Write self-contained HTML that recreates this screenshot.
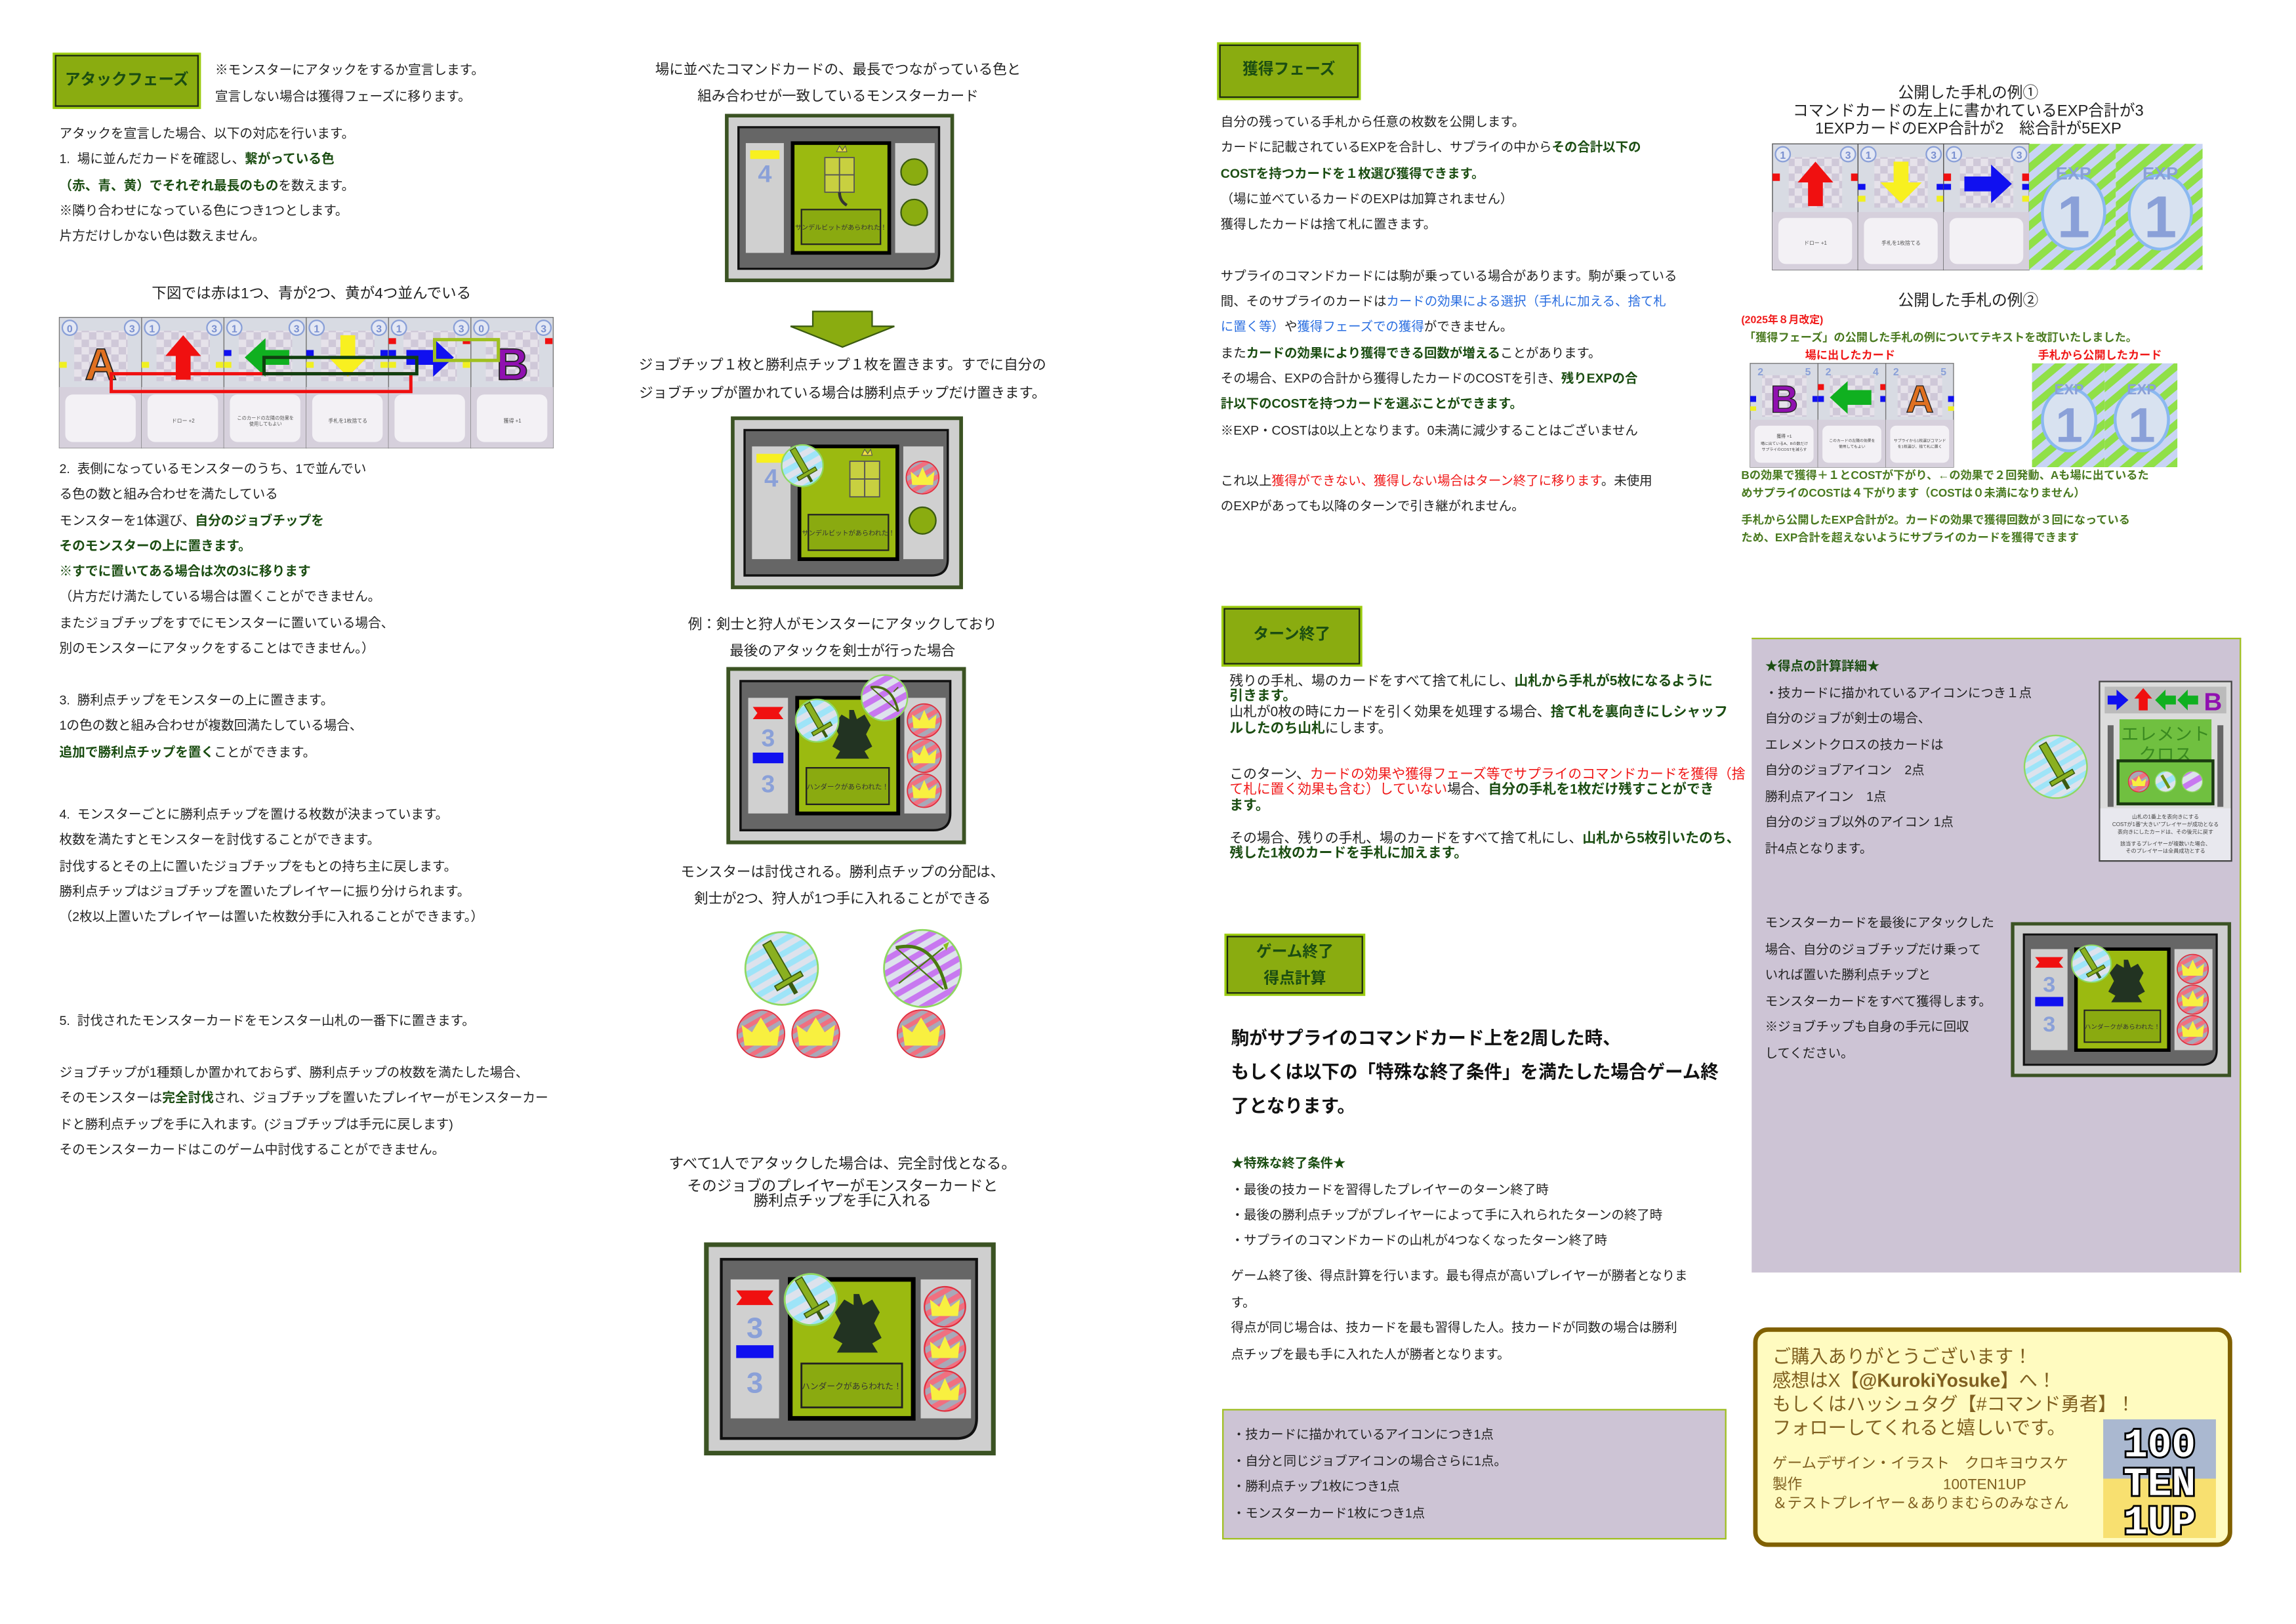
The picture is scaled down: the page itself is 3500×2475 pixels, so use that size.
<!DOCTYPE html>
<html><head><meta charset="utf-8">
<style>
html,body{margin:0;padding:0;background:#fff;}
body{width:3500px;height:2475px;overflow:hidden;position:relative;}
#s{position:absolute;left:0;top:0;width:1548px;height:1095px;transform:scale(2.2610,2.2603);transform-origin:0 0;font-family:"Liberation Sans","Noto Sans CJK JP",sans-serif;color:#222;}
.a{position:absolute;white-space:nowrap;}
.t{font-size:8.7px;line-height:17.3px;}
.g{color:#1b4d12;font-weight:bold;}
.bl{color:#2a6ee0;}
.r{color:#f01818;}
.btn{position:absolute;background:#8aac10;border:1.5px solid #1c2a10;box-shadow:0 0 0 1.5px #9ccc10;color:#1b4d12;font-weight:bold;font-size:10.5px;text-align:center;box-sizing:border-box;}
.c{text-align:center;}
svg{position:absolute;overflow:visible;}
</style></head><body>
<svg width="0" height="0" style="position:absolute">
<defs>
<pattern id="pB" width="8" height="8" patternUnits="userSpaceOnUse" patternTransform="rotate(-30)"><rect width="8" height="8" fill="#dde2ec"/><rect width="8" height="4" fill="#9ee4f8"/></pattern>
<pattern id="pP" width="8" height="8" patternUnits="userSpaceOnUse" patternTransform="rotate(-30)"><rect width="8" height="8" fill="#dde2ec"/><rect width="8" height="4" fill="#c878f0"/></pattern>
<pattern id="pR" width="6" height="6" patternUnits="userSpaceOnUse" patternTransform="rotate(-30)"><rect width="6" height="6" fill="#a8a8b8"/><rect width="6" height="3" fill="#f07080"/></pattern>
<pattern id="pE" width="10" height="10" patternUnits="userSpaceOnUse" patternTransform="rotate(-40)"><rect width="10" height="10" fill="#c8d4f4"/><rect width="10" height="5" fill="#90e048"/></pattern>
<pattern id="chk" width="10" height="10" patternUnits="userSpaceOnUse"><rect width="10" height="10" fill="#e6e2ea"/><rect width="5" height="5" fill="#cfc8d8"/><rect x="5" y="5" width="5" height="5" fill="#cfc8d8"/></pattern>
</defs></svg>
<div id="s">

<!-- ===== LEFT COLUMN ===== -->
<div class="btn" style="left:37px;top:37px;width:97px;height:35px;line-height:32px;">アタックフェーズ</div>
<div class="a t" style="left:145px;top:39px;line-height:17.5px;">※モンスターにアタックをするか宣言します。<br>宣言しない場合は獲得フェーズに移ります。</div>
<div class="a t" style="left:40px;top:82px;">アタックを宣言した場合、以下の対応を行います。<br>1.&nbsp; 場に並んだカードを確認し、<span class="g">繋がっている色</span><br><span class="g">（赤、青、黄）でそれぞれ最長のもの</span>を数えます。<br>※隣り合わせになっている色につき1つとします。<br>片方だけしかない色は数えません。</div>
<div class="a c" style="left:40px;width:340px;top:189px;font-size:10px;">下図では赤は1つ、青が2つ、黄が4つ並んでいる</div>

<svg style="left:40px;top:214px;" width="333" height="88" viewBox="0 0 333 88">
<g id="cards">
<!-- six cards -->
<g>
<rect x="0" y="0" width="55.5" height="88" fill="#d8dbe3" stroke="#777" stroke-width=".6"/>
<rect x="0" y="47" width="55.5" height="41" fill="#d6d0dc"/>
<rect x="4" y="52" width="47.5" height="32" rx="5" fill="#f3f1f5"/>
<rect x="10" y="9" width="36" height="34" fill="url(#chk)"/>
<circle cx="7" cy="7" r="5" fill="#e4e8f4" stroke="#8aa0d8"/><text x="7" y="10" font-size="7" text-anchor="middle" fill="#7a90d0" font-weight="bold">0</text>
<circle cx="49" cy="7" r="5" fill="#e4e8f4" stroke="#8aa0d8"/><text x="49" y="10" font-size="7" text-anchor="middle" fill="#7a90d0" font-weight="bold">3</text>
<text x="28" y="42" font-size="30" font-weight="bold" text-anchor="middle" fill="#e07020" stroke="#222" stroke-width=".8">A</text>
<rect x="0" y="30" width="5" height="4" fill="#f0f020"/>
</g>
<g transform="translate(55.5,0)">
<rect x="0" y="0" width="55.5" height="88" fill="#d8dbe3" stroke="#777" stroke-width=".6"/>
<rect x="0" y="47" width="55.5" height="41" fill="#d6d0dc"/>
<rect x="4" y="52" width="47.5" height="32" rx="5" fill="#f3f1f5"/>
<text x="28" y="71" font-size="3.5" text-anchor="middle" fill="#555">ドロー +2</text>
<rect x="10" y="9" width="36" height="34" fill="url(#chk)"/>
<circle cx="7" cy="7" r="5" fill="#e4e8f4" stroke="#8aa0d8"/><text x="7" y="10" font-size="7" text-anchor="middle" fill="#7a90d0" font-weight="bold">1</text>
<circle cx="49" cy="7" r="5" fill="#e4e8f4" stroke="#8aa0d8"/><text x="49" y="10" font-size="7" text-anchor="middle" fill="#7a90d0" font-weight="bold">3</text>
<polygon points="28,12 40,26 33,26 33,42 23,42 23,26 16,26" fill="#f01010"/>
<rect x="0" y="30" width="5" height="4" fill="#f0f020"/><rect x="50" y="30" width="5" height="4" fill="#f0f020"/>
</g>
<g transform="translate(111,0)">
<rect x="0" y="0" width="55.5" height="88" fill="#d8dbe3" stroke="#777" stroke-width=".6"/>
<rect x="0" y="47" width="55.5" height="41" fill="#d6d0dc"/>
<rect x="4" y="52" width="47.5" height="32" rx="5" fill="#f3f1f5"/>
<text x="28" y="69" font-size="3.2" text-anchor="middle" fill="#555">このカードの左隣の効果を</text><text x="28" y="73" font-size="3.2" text-anchor="middle" fill="#555">使用してもよい</text>
<rect x="10" y="9" width="36" height="34" fill="url(#chk)"/>
<circle cx="7" cy="7" r="5" fill="#e4e8f4" stroke="#8aa0d8"/><text x="7" y="10" font-size="7" text-anchor="middle" fill="#7a90d0" font-weight="bold">1</text>
<circle cx="49" cy="7" r="5" fill="#e4e8f4" stroke="#8aa0d8"/><text x="49" y="10" font-size="7" text-anchor="middle" fill="#7a90d0" font-weight="bold">3</text>
<polygon points="14,27 28,14 28,22 44,22 44,32 28,32 28,40" fill="#10b020"/>
<rect x="0" y="22" width="5" height="4" fill="#1010f0"/><rect x="0" y="30" width="5" height="4" fill="#f0f020"/>
</g>
<g transform="translate(166.5,0)">
<rect x="0" y="0" width="55.5" height="88" fill="#d8dbe3" stroke="#777" stroke-width=".6"/>
<rect x="0" y="47" width="55.5" height="41" fill="#d6d0dc"/>
<rect x="4" y="52" width="47.5" height="32" rx="5" fill="#f3f1f5"/>
<text x="28" y="71" font-size="3.5" text-anchor="middle" fill="#555">手札を1枚捨てる</text>
<rect x="10" y="9" width="36" height="34" fill="url(#chk)"/>
<circle cx="7" cy="7" r="5" fill="#e4e8f4" stroke="#8aa0d8"/><text x="7" y="10" font-size="7" text-anchor="middle" fill="#7a90d0" font-weight="bold">1</text>
<circle cx="49" cy="7" r="5" fill="#e4e8f4" stroke="#8aa0d8"/><text x="49" y="10" font-size="7" text-anchor="middle" fill="#7a90d0" font-weight="bold">3</text>
<polygon points="23,12 33,12 33,26 42,26 28,40 14,26 23,26" fill="#f8f020"/>
<rect x="0" y="22" width="5" height="4" fill="#1010f0"/><rect x="50" y="22" width="5" height="4" fill="#1010f0"/><rect x="0" y="30" width="5" height="4" fill="#f0f020"/><rect x="50" y="30" width="5" height="4" fill="#f0f020"/>
</g>
<g transform="translate(222,0)">
<rect x="0" y="0" width="55.5" height="88" fill="#d8dbe3" stroke="#777" stroke-width=".6"/>
<rect x="0" y="47" width="55.5" height="41" fill="#d6d0dc"/>
<rect x="4" y="52" width="47.5" height="32" rx="5" fill="#f3f1f5"/>
<rect x="10" y="9" width="36" height="34" fill="url(#chk)"/>
<circle cx="7" cy="7" r="5" fill="#e4e8f4" stroke="#8aa0d8"/><text x="7" y="10" font-size="7" text-anchor="middle" fill="#7a90d0" font-weight="bold">1</text>
<circle cx="49" cy="7" r="5" fill="#e4e8f4" stroke="#8aa0d8"/><text x="49" y="10" font-size="7" text-anchor="middle" fill="#7a90d0" font-weight="bold">3</text>
<polygon points="44,27 30,14 30,22 12,22 12,32 30,32 30,40" fill="#1010f0"/>
<rect x="0" y="14" width="5" height="4" fill="#f01010"/><rect x="0" y="22" width="5" height="4" fill="#1010f0"/><rect x="0" y="30" width="5" height="4" fill="#f0f020"/><rect x="50" y="14" width="5" height="4" fill="#f01010"/><rect x="50" y="30" width="5" height="4" fill="#f0f020"/>
</g>
<g transform="translate(277.5,0)">
<rect x="0" y="0" width="55.5" height="88" fill="#d8dbe3" stroke="#777" stroke-width=".6"/>
<rect x="0" y="47" width="55.5" height="41" fill="#d6d0dc"/>
<rect x="4" y="52" width="47.5" height="32" rx="5" fill="#f3f1f5"/>
<text x="28" y="71" font-size="3.5" text-anchor="middle" fill="#555">獲得 +1</text>
<rect x="10" y="9" width="36" height="34" fill="url(#chk)"/>
<circle cx="7" cy="7" r="5" fill="#e4e8f4" stroke="#8aa0d8"/><text x="7" y="10" font-size="7" text-anchor="middle" fill="#7a90d0" font-weight="bold">0</text>
<circle cx="49" cy="7" r="5" fill="#e4e8f4" stroke="#8aa0d8"/><text x="49" y="10" font-size="7" text-anchor="middle" fill="#7a90d0" font-weight="bold">3</text>
<text x="28" y="42" font-size="30" font-weight="bold" text-anchor="middle" fill="#9010b0" stroke="#222" stroke-width=".8">B</text>
<rect x="50" y="14" width="5" height="4" fill="#f01010"/>
</g>
</g>
<rect x="35" y="38" width="202" height="12" fill="none" stroke="#f01010" stroke-width="2.2"/>
<rect x="138" y="27" width="103" height="11" fill="none" stroke="#104010" stroke-width="2.2"/>
<rect x="253" y="15" width="43" height="14" fill="none" stroke="#a0c020" stroke-width="2.2"/>
</svg>

<div class="a t" style="left:40px;top:308px;">2.&nbsp; 表側になっているモンスターのうち、1で並んでい<br>る色の数と組み合わせを満たしている<br>モンスターを1体選び、<span class="g">自分のジョブチップを</span><br><span class="g">そのモンスターの上に置きます。</span><br><span class="g">※すでに置いてある場合は次の3に移ります</span><br>（片方だけ満たしている場合は置くことができません。<br>またジョブチップをすでにモンスターに置いている場合、<br>別のモンスターにアタックをすることはできません。）</div>
<div class="a t" style="left:40px;top:464px;">3.&nbsp; 勝利点チップをモンスターの上に置きます。<br>1の色の数と組み合わせが複数回満たしている場合、<br><span class="g">追加で勝利点チップを置く</span>ことができます。</div>
<div class="a t" style="left:40px;top:541px;">4.&nbsp; モンスターごとに勝利点チップを置ける枚数が決まっています。<br>枚数を満たすとモンスターを討伐することができます。<br>討伐するとその上に置いたジョブチップをもとの持ち主に戻します。<br>勝利点チップはジョブチップを置いたプレイヤーに振り分けられます。<br>（2枚以上置いたプレイヤーは置いた枚数分手に入れることができます。）</div>
<div class="a t" style="left:40px;top:680px;">5.&nbsp; 討伐されたモンスターカードをモンスター山札の一番下に置きます。</div>
<div class="a t" style="left:40px;top:715px;">ジョブチップが1種類しか置かれておらず、勝利点チップの枚数を満たした場合、<br>そのモンスターは<span class="g">完全討伐</span>され、ジョブチップを置いたプレイヤーがモンスターカー<br>ドと勝利点チップを手に入れます。(ジョブチップは手元に戻します)<br>そのモンスターカードはこのゲーム中討伐することができません。</div>

<!-- ===== MIDDLE COLUMN ===== -->
<div class="a c" style="left:390px;width:350px;top:39px;font-size:9.5px;line-height:18px;">場に並べたコマンドカードの、最長でつながっている色と<br>組み合わせが一致しているモンスターカード</div>

<!-- card 1 -->
<svg style="left:489px;top:77px;" width="154" height="113" viewBox="0 0 156 116" preserveAspectRatio="none">
<rect x="1" y="1" width="154" height="114" fill="#cfcfcf" stroke="#3b5323" stroke-width="2.5"/>
<path d="M9 9H146V96Q146 107 135 107H9Z" fill="#666" stroke="#111" stroke-width="1.5"/>
<rect x="14" y="20" width="26" height="76" fill="#d0d0d0"/>
<rect x="116" y="20" width="27" height="76" fill="#d0d0d0"/>
<rect x="46" y="20" width="66" height="76" fill="#9bba10" stroke="#000" stroke-width="2.5"/>
<rect x="52" y="66" width="54" height="24" fill="#8aaa10" stroke="#222" stroke-width="1"/>
<text x="79" y="80" font-size="4.5" text-anchor="middle" fill="#333">サンデルビットがあらわれた！</text>
<g fill="#c8d040" stroke="#555" stroke-width=".8"><rect x="68" y="30" width="10" height="12"/><rect x="78" y="30" width="10" height="12"/><rect x="68" y="42" width="10" height="12"/><rect x="78" y="42" width="10" height="12"/></g>
<path d="M76 26l2-4 2 3 2-3 1 4z" fill="#f0e040" stroke="#555" stroke-width=".5"/>
<path d="M78 54q0 6 5 9" stroke="#333" stroke-width="2" fill="none"/>
<rect x="17" y="25" width="20" height="6" fill="#f8f020"/>
<text x="27" y="47" font-size="17" font-weight="bold" text-anchor="middle" fill="#8aa0d8">4</text>
<circle cx="129" cy="40" r="9" fill="#8aac10" stroke="#3a5a10" stroke-width="1"/>
<circle cx="129" cy="68" r="9" fill="#8aac10" stroke="#3a5a10" stroke-width="1"/>
</svg>

<svg style="left:533px;top:209px;" width="70" height="26" viewBox="533 209 70 26">
<polygon points="548,210 588,210 588,220 603,220 568,234 533,220 548,220" fill="#8aac10" stroke="#3a5a10" stroke-width="1"/>
</svg>

<div class="a c" style="left:390px;width:356px;top:238px;font-size:9.5px;line-height:18.5px;">ジョブチップ１枚と勝利点チップ１枚を置きます。すでに自分の<br>ジョブチップが置かれている場合は勝利点チップだけ置きます。</div>

<!-- card 2 -->
<svg style="left:493px;top:281px;" width="156" height="116" viewBox="0 0 156 116" preserveAspectRatio="none">
<rect x="1" y="1" width="154" height="114" fill="#cfcfcf" stroke="#3b5323" stroke-width="2.5"/>
<path d="M9 9H146V96Q146 107 135 107H9Z" fill="#666" stroke="#111" stroke-width="1.5"/>
<rect x="14" y="20" width="26" height="76" fill="#d0d0d0"/>
<rect x="116" y="20" width="27" height="76" fill="#d0d0d0"/>
<rect x="46" y="20" width="66" height="76" fill="#9bba10" stroke="#000" stroke-width="2.5"/>
<rect x="52" y="66" width="54" height="24" fill="#8aaa10" stroke="#222" stroke-width="1"/>
<text x="79" y="80" font-size="4.5" text-anchor="middle" fill="#333">サンデルビットがあらわれた！</text>
<g fill="#c8d040" stroke="#555" stroke-width=".8"><rect x="80" y="30" width="10" height="12"/><rect x="90" y="30" width="10" height="12"/><rect x="80" y="42" width="10" height="12"/><rect x="90" y="42" width="10" height="12"/></g>
<path d="M88 26l2-4 2 3 2-3 1 4z" fill="#f0e040" stroke="#555" stroke-width=".5"/>
<rect x="17" y="25" width="20" height="6" fill="#f8f020"/>
<text x="27" y="47" font-size="17" font-weight="bold" text-anchor="middle" fill="#8aa0d8">4</text>
<g transform="translate(33,18)"><circle cx="15" cy="15" r="14" fill="url(#pB)" stroke="#8fd860"/><g transform="rotate(-30 15 15)"><rect x="13" y="2" width="4" height="18" fill="#8ab020" stroke="#3a5a10" stroke-width=".6"/><rect x="8" y="20" width="14" height="2.5" fill="#8ab020" stroke="#3a5a10" stroke-width=".6"/><rect x="14" y="22.5" width="2" height="5" fill="#3a5a10"/></g></g>
<g transform="translate(118,30)"><circle cx="11" cy="11" r="11" fill="url(#pR)" stroke="#e03040" stroke-width=".8"/><polygon points="4,16 3,7 8,11 11,4 14,11 19,7 18,16" fill="#f8f040"/></g>
<circle cx="129" cy="70" r="9" fill="#8aac10" stroke="#3a5a10" stroke-width="1"/>
</svg>

<div class="a c" style="left:390px;width:356px;top:413px;font-size:9.5px;line-height:18px;">例：剣士と狩人がモンスターにアタックしており<br>最後のアタックを剣士が行った場合</div>

<!-- card 3 -->
<svg style="left:490px;top:450px;" width="161" height="119" viewBox="0 0 156 116" preserveAspectRatio="none">
<rect x="1" y="1" width="154" height="114" fill="#cfcfcf" stroke="#3b5323" stroke-width="2.5"/>
<path d="M9 9H146V96Q146 107 135 107H9Z" fill="#666" stroke="#111" stroke-width="1.5"/>
<rect x="14" y="20" width="26" height="76" fill="#d0d0d0"/>
<rect x="116" y="20" width="27" height="76" fill="#d0d0d0"/>
<rect x="46" y="20" width="66" height="76" fill="#9bba10" stroke="#000" stroke-width="2.5"/>
<rect x="52" y="66" width="54" height="24" fill="#8aaa10" stroke="#222" stroke-width="1"/>
<text x="79" y="80" font-size="4.5" text-anchor="middle" fill="#333">ハンダークがあらわれた！</text>
<path d="M80 28l3 0 2 6 5-3 4 7-3 6 4 8-5 3 3 5h-22l3-5-5-3 4-8-3-6 5-7 5 3z" fill="#223322"/>
<polygon points="17,26 37,26 34,30 37,34 17,34 20,30" fill="#f01010"/>
<text x="27" y="52" font-size="16" font-weight="bold" text-anchor="middle" fill="#8aa0d8">3</text>
<rect x="17" y="56" width="20" height="7" fill="#1010f0"/>
<text x="27" y="82" font-size="16" font-weight="bold" text-anchor="middle" fill="#8aa0d8">3</text>
<g transform="translate(44,20)"><circle cx="15" cy="15" r="14" fill="url(#pB)" stroke="#8fd860"/><g transform="rotate(-30 15 15)"><rect x="13" y="2" width="4" height="18" fill="#8ab020" stroke="#3a5a10" stroke-width=".6"/><rect x="8" y="20" width="14" height="2.5" fill="#8ab020" stroke="#3a5a10" stroke-width=".6"/><rect x="14" y="22.5" width="2" height="5" fill="#3a5a10"/></g></g>
<g transform="translate(88,5)"><circle cx="15" cy="15" r="15" fill="url(#pP)" stroke="#8fd860"/><path d="M6 8q14 -2 18 16" stroke="#4a6a10" stroke-width="1.5" fill="none"/><path d="M6 8l18 16M24 8l-3 3" stroke="#4a6a10" stroke-width=".8" fill="none"/></g>
<g transform="translate(118,24)"><circle cx="11" cy="11" r="11" fill="url(#pR)" stroke="#e03040" stroke-width=".8"/><polygon points="4,16 3,7 8,11 11,4 14,11 19,7 18,16" fill="#f8f040"/></g>
<g transform="translate(118,47)"><circle cx="11" cy="11" r="11" fill="url(#pR)" stroke="#e03040" stroke-width=".8"/><polygon points="4,16 3,7 8,11 11,4 14,11 19,7 18,16" fill="#f8f040"/></g>
<g transform="translate(118,70)"><circle cx="11" cy="11" r="11" fill="url(#pR)" stroke="#e03040" stroke-width=".8"/><polygon points="4,16 3,7 8,11 11,4 14,11 19,7 18,16" fill="#f8f040"/></g>
</svg>

<div class="a c" style="left:390px;width:356px;top:580px;font-size:9.5px;line-height:18px;">モンスターは討伐される。勝利点チップの分配は、<br>剣士が2つ、狩人が1つ手に入れることができる</div>

<!-- chips -->
<svg style="left:500px;top:626px;" width="160" height="90" viewBox="500 626 160 90">
<g transform="translate(502,628)"><circle cx="25" cy="25" r="24.5" fill="url(#pB)" stroke="#8fd860" stroke-width="1.2"/><g transform="rotate(-30 25 25)"><rect x="22" y="5" width="6" height="29" fill="#8ab020" stroke="#3a5a10" stroke-width=".8"/><rect x="15" y="33" width="20" height="3.5" fill="#8ab020" stroke="#3a5a10" stroke-width=".8"/><rect x="23.5" y="36.5" width="3" height="8" fill="#3a5a10"/></g></g>
<g transform="translate(596,627)"><circle cx="26" cy="26" r="26" fill="url(#pP)" stroke="#8fd860" stroke-width="1.2"/><path d="M8 12q26 -6 34 28" stroke="#4a7a10" stroke-width="2.2" fill="none"/><path d="M10 36l30 -24M8 12l32 28" stroke="#4a7a10" stroke-width="1" fill="none"/><polygon points="40,10 44,8 42,14" fill="#8ac020"/></g>
<g transform="translate(496,681)"><circle cx="17" cy="16" r="16" fill="url(#pR)" stroke="#e03040" stroke-width=".8"/><polygon points="6,24 4,10 11,15 17,5 23,15 30,10 28,24" fill="#f8f040"/></g>
<g transform="translate(533,681)"><circle cx="17" cy="16" r="16" fill="url(#pR)" stroke="#e03040" stroke-width=".8"/><polygon points="6,24 4,10 11,15 17,5 23,15 30,10 28,24" fill="#f8f040"/></g>
<g transform="translate(604,681)"><circle cx="17" cy="16" r="16" fill="url(#pR)" stroke="#e03040" stroke-width=".8"/><polygon points="6,24 4,10 11,15 17,5 23,15 30,10 28,24" fill="#f8f040"/></g>
</svg>

<div class="a c" style="left:390px;width:356px;top:777px;font-size:10px;line-height:18px;">すべて1人でアタックした場合は、完全討伐となる。</div>
<div class="a c" style="left:390px;width:356px;top:796px;font-size:10px;line-height:10px;">そのジョブのプレイヤーがモンスターカードと<br>勝利点チップを手に入れる</div>

<!-- card 4 -->
<svg style="left:475px;top:838px;" width="196" height="143" viewBox="0 0 156 116" preserveAspectRatio="none">
<rect x="1" y="1" width="154" height="114" fill="#cfcfcf" stroke="#3b5323" stroke-width="2.5"/>
<path d="M9 9H146V96Q146 107 135 107H9Z" fill="#666" stroke="#111" stroke-width="1.5"/>
<rect x="14" y="20" width="26" height="76" fill="#d0d0d0"/>
<rect x="116" y="20" width="27" height="76" fill="#d0d0d0"/>
<rect x="46" y="20" width="66" height="76" fill="#9bba10" stroke="#000" stroke-width="2.5"/>
<rect x="52" y="66" width="54" height="24" fill="#8aaa10" stroke="#222" stroke-width="1"/>
<text x="79" y="80" font-size="4.5" text-anchor="middle" fill="#333">ハンダークがあらわれた！</text>
<path d="M80 28l3 0 2 6 5-3 4 7-3 6 4 8-5 3 3 5h-22l3-5-5-3 4-8-3-6 5-7 5 3z" fill="#223322"/>
<polygon points="17,26 37,26 34,30 37,34 17,34 20,30" fill="#f01010"/>
<text x="27" y="52" font-size="16" font-weight="bold" text-anchor="middle" fill="#8aa0d8">3</text>
<rect x="17" y="56" width="20" height="7" fill="#1010f0"/>
<text x="27" y="82" font-size="16" font-weight="bold" text-anchor="middle" fill="#8aa0d8">3</text>
<g transform="translate(42,16)"><circle cx="15" cy="15" r="14" fill="url(#pB)" stroke="#8fd860"/><g transform="rotate(-30 15 15)"><rect x="13" y="2" width="4" height="18" fill="#8ab020" stroke="#3a5a10" stroke-width=".6"/><rect x="8" y="20" width="14" height="2.5" fill="#8ab020" stroke="#3a5a10" stroke-width=".6"/><rect x="14" y="22.5" width="2" height="5" fill="#3a5a10"/></g></g>
<g transform="translate(118,24)"><circle cx="11" cy="11" r="11" fill="url(#pR)" stroke="#e03040" stroke-width=".8"/><polygon points="4,16 3,7 8,11 11,4 14,11 19,7 18,16" fill="#f8f040"/></g>
<g transform="translate(118,47)"><circle cx="11" cy="11" r="11" fill="url(#pR)" stroke="#e03040" stroke-width=".8"/><polygon points="4,16 3,7 8,11 11,4 14,11 19,7 18,16" fill="#f8f040"/></g>
<g transform="translate(118,70)"><circle cx="11" cy="11" r="11" fill="url(#pR)" stroke="#e03040" stroke-width=".8"/><polygon points="4,16 3,7 8,11 11,4 14,11 19,7 18,16" fill="#f8f040"/></g>
</svg>

<!-- ===== RIGHT COLUMN 1 ===== -->
<div class="btn" style="left:822px;top:30px;width:94px;height:36px;line-height:33px;">獲得フェーズ</div>
<div class="a t" style="left:823px;top:74px;font-size:8.6px;">自分の残っている手札から任意の枚数を公開します。<br>カードに記載されているEXPを合計し、サプライの中から<span class="g">その合計以下の</span><br><span class="g">COSTを持つカードを１枚選び獲得できます。</span><br>（場に並べているカードのEXPは加算されません）<br>獲得したカードは捨て札に置きます。<br><br>サプライのコマンドカードには駒が乗っている場合があります。駒が乗っている<br>間、そのサプライのカードは<span class="bl">カードの効果による選択（手札に加える、捨て札</span><br><span class="bl">に置く等）</span>や<span class="bl">獲得フェーズでの獲得</span>ができません。<br>また<span class="g">カードの効果により獲得できる回数が増える</span>ことがあります。<br>その場合、EXPの合計から獲得したカードのCOSTを引き、<span class="g">残りEXPの合</span><br><span class="g">計以下のCOSTを持つカードを選ぶことができます。</span><br>※EXP・COSTは0以上となります。0未満に減少することはございません<br><br>これ以上<span class="r">獲得ができない、獲得しない場合はターン終了に移ります</span>。未使用<br>のEXPがあっても以降のターンで引き継がれません。</div>

<div class="btn" style="left:825px;top:410px;width:92px;height:38px;line-height:35px;">ターン終了</div>
<div class="a" style="left:829px;top:453.6px;font-size:9.2px;line-height:10.8px;">残りの手札、場のカードをすべて捨て札にし、<span class="g">山札から手札が5枚になるように</span><br><span class="g">引きます。</span><br>山札が0枚の時にカードを引く効果を処理する場合、<span class="g">捨て札を裏向きにしシャッフ</span><br><span class="g">ルしたのち山札</span>にします。</div>
<div class="a" style="left:829px;top:516.6px;font-size:9.2px;line-height:10.8px;">このターン、<span class="r">カードの効果や獲得フェーズ等でサプライのコマンドカードを獲得（捨</span><br><span class="r">て札に置く効果も含む）していない</span>場合、<span class="g">自分の手札を1枚だけ残すことができ</span><br><span class="g">ます。</span></div>
<div class="a" style="left:829px;top:559.6px;font-size:9.2px;line-height:10.8px;">その場合、残りの手札、場のカードをすべて捨て札にし、<span class="g">山札から5枚引いたのち、</span><br><span class="g">残した1枚のカードを手札に加えます。</span></div>

<div class="btn" style="left:827px;top:631px;width:92px;height:39px;line-height:18px;padding-top:1px;">ゲーム終了<br>得点計算</div>
<div class="a" style="left:830px;top:688.5px;font-size:12.2px;line-height:23px;font-weight:bold;color:#111;">駒がサプライのコマンドカード上を2周した時、<br>もしくは以下の「特殊な終了条件」を満たした場合ゲーム終<br>了となります。</div>
<div class="a t" style="left:830px;top:776.4px;font-size:8.6px;line-height:17.2px;"><span class="g">★特殊な終了条件★</span><br>・最後の技カードを習得したプレイヤーのターン終了時<br>・最後の勝利点チップがプレイヤーによって手に入れられたターンの終了時<br>・サプライのコマンドカードの山札が4つなくなったターン終了時</div>
<div class="a t" style="left:830px;top:852.4px;font-size:8.6px;line-height:17.5px;">ゲーム終了後、得点計算を行います。最も得点が高いプレイヤーが勝者となりま<br>す。<br>得点が同じ場合は、技カードを最も習得した人。技カードが同数の場合は勝利<br>点チップを最も手に入れた人が勝者となります。</div>

<div class="a" style="left:824px;top:950px;width:340px;height:88px;background:#cdc4d5;border:1px solid #a0c020;box-sizing:border-box;"></div>
<div class="a t" style="left:831px;top:959.4px;font-size:8.6px;line-height:17.5px;">・技カードに描かれているアイコンにつき1点<br>・自分と同じジョブアイコンの場合さらに1点。<br>・勝利点チップ1枚につき1点<br>・モンスターカード1枚につき1点</div>

<!-- ===== RIGHT COLUMN 2 ===== -->
<div class="a c" style="left:1177px;width:300px;top:57px;font-size:10.5px;line-height:12px;">公開した手札の例①<br>コマンドカードの左上に書かれているEXP合計が3<br>1EXPカードのEXP合計が2　総合計が5EXP</div>

<svg style="left:1195px;top:97px;" width="290" height="85" viewBox="0 0 290 85" preserveAspectRatio="none">
<g>
<rect x="0" y="0" width="57.7" height="85" fill="#d8dbe3" stroke="#555" stroke-width=".6"/>
<rect x="0" y="46" width="57.7" height="39" fill="#d6d0dc"/>
<rect x="4" y="50" width="49.7" height="31" rx="5" fill="#f3f1f5"/>
<text x="29" y="68" font-size="3.5" text-anchor="middle" fill="#555">ドロー +1</text>
<rect x="11" y="9" width="36" height="34" fill="url(#chk)"/>
<circle cx="7" cy="7" r="5" fill="#e4e8f4" stroke="#8aa0d8"/><text x="7" y="10" font-size="7" text-anchor="middle" fill="#7a90d0" font-weight="bold">1</text>
<circle cx="51" cy="7" r="5" fill="#e4e8f4" stroke="#8aa0d8"/><text x="51" y="10" font-size="7" text-anchor="middle" fill="#7a90d0" font-weight="bold">3</text>
<polygon points="29,12 41,26 34,26 34,42 24,42 24,26 17,26" fill="#f01010"/>
<rect x="0" y="20" width="5" height="5" fill="#f01010"/><rect x="53" y="20" width="5" height="5" fill="#f01010"/>
</g>
<g transform="translate(57.7,0)">
<rect x="0" y="0" width="57.7" height="85" fill="#d8dbe3" stroke="#555" stroke-width=".6"/>
<rect x="0" y="46" width="57.7" height="39" fill="#d6d0dc"/>
<rect x="4" y="50" width="49.7" height="31" rx="5" fill="#f3f1f5"/>
<text x="29" y="68" font-size="3.5" text-anchor="middle" fill="#555">手札を1枚捨てる</text>
<rect x="11" y="9" width="36" height="34" fill="url(#chk)"/>
<circle cx="7" cy="7" r="5" fill="#e4e8f4" stroke="#8aa0d8"/><text x="7" y="10" font-size="7" text-anchor="middle" fill="#7a90d0" font-weight="bold">1</text>
<circle cx="51" cy="7" r="5" fill="#e4e8f4" stroke="#8aa0d8"/><text x="51" y="10" font-size="7" text-anchor="middle" fill="#7a90d0" font-weight="bold">3</text>
<polygon points="24,12 34,12 34,26 43,26 29,40 15,26 24,26" fill="#f8f020"/>
<rect x="0" y="27" width="5" height="4" fill="#1010f0"/><rect x="53" y="27" width="5" height="4" fill="#1010f0"/><rect x="0" y="35" width="5" height="4" fill="#f0f020"/><rect x="53" y="35" width="5" height="4" fill="#f0f020"/>
</g>
<g transform="translate(115.4,0)">
<rect x="0" y="0" width="57.7" height="85" fill="#d8dbe3" stroke="#555" stroke-width=".6"/>
<rect x="0" y="46" width="57.7" height="39" fill="#d6d0dc"/>
<rect x="4" y="50" width="49.7" height="31" rx="5" fill="#f3f1f5"/>
<rect x="11" y="9" width="36" height="34" fill="url(#chk)"/>
<circle cx="7" cy="7" r="5" fill="#e4e8f4" stroke="#8aa0d8"/><text x="7" y="10" font-size="7" text-anchor="middle" fill="#7a90d0" font-weight="bold">1</text>
<circle cx="51" cy="7" r="5" fill="#e4e8f4" stroke="#8aa0d8"/><text x="51" y="10" font-size="7" text-anchor="middle" fill="#7a90d0" font-weight="bold">3</text>
<polygon points="46,27 32,14 32,22 14,22 14,32 32,32 32,40" fill="#1010f0"/>
<rect x="0" y="20" width="5" height="5" fill="#f01010"/><rect x="53" y="20" width="5" height="5" fill="#f01010"/><rect x="0" y="27" width="5" height="4" fill="#1010f0"/><rect x="53" y="27" width="5" height="4" fill="#1010f0"/><rect x="53" y="35" width="5" height="4" fill="#f0f020"/>
</g>
<g transform="translate(173,0)"><rect width="58.5" height="85" fill="url(#pE)"/><ellipse cx="30" cy="46" rx="21" ry="25" fill="#d8e2f0" stroke="#8ab8f0" stroke-width="2"/><text x="30" y="63" font-size="40" font-weight="bold" text-anchor="middle" fill="#8aa0d8">1</text><text x="30" y="24" font-size="12" font-weight="bold" text-anchor="middle" fill="#8aa0d8">EXP</text></g>
<g transform="translate(231.5,0)"><rect width="58.5" height="85" fill="url(#pE)"/><ellipse cx="30" cy="46" rx="21" ry="25" fill="#d8e2f0" stroke="#8ab8f0" stroke-width="2"/><text x="30" y="63" font-size="40" font-weight="bold" text-anchor="middle" fill="#8aa0d8">1</text><text x="30" y="24" font-size="12" font-weight="bold" text-anchor="middle" fill="#8aa0d8">EXP</text></g>
</svg>

<div class="a c" style="left:1177px;width:300px;top:196px;font-size:10.5px;line-height:14px;">公開した手札の例②</div>
<div class="a" style="left:1174px;top:212px;font-size:7px;line-height:10px;font-weight:bold;color:#f01818;">(2025年８月改定)</div>
<div class="a" style="left:1176px;top:223px;font-size:7.6px;line-height:10px;font-weight:bold;color:#4a7a20;">「獲得フェーズ」の公開した手札の例についてテキストを改訂いたしました。</div>
<div class="a" style="left:1217px;top:235px;font-size:7.6px;line-height:10px;font-weight:bold;color:#f01818;">場に出したカード</div>
<div class="a" style="left:1374px;top:235px;font-size:7.6px;line-height:10px;font-weight:bold;color:#f01818;">手札から公開したカード</div>

<svg style="left:1180px;top:245px;" width="290" height="70" viewBox="0 0 290 70" preserveAspectRatio="none">
<g>
<rect x="0" y="0" width="45.7" height="70" fill="#d8dbe3" stroke="#777" stroke-width=".6"/>
<rect x="0" y="38" width="45.7" height="32" fill="#d6d0dc"/>
<rect x="3" y="42" width="39.7" height="25" rx="4" fill="#f3f1f5"/>
<text x="23" y="50" font-size="3" text-anchor="middle" fill="#444">獲得 +1</text><text x="23" y="55" font-size="2.6" text-anchor="middle" fill="#444">場に出ているA、Bの数だけ</text><text x="23" y="59" font-size="2.6" text-anchor="middle" fill="#444">サプライのCOSTを減らす</text>
<rect x="8" y="8" width="30" height="28" fill="url(#chk)"/>
<text x="23" y="33" font-size="26" font-weight="bold" text-anchor="middle" fill="#9010b0" stroke="#222" stroke-width=".6">B</text>
<text x="5" y="8" font-size="7" fill="#8aa0d8" font-weight="bold">2</text><text x="37" y="8" font-size="7" fill="#8aa0d8" font-weight="bold">5</text>
<rect x="0" y="22" width="4" height="4" fill="#1010f0"/><rect x="42" y="22" width="4" height="4" fill="#1010f0"/><rect x="0" y="29" width="4" height="3" fill="#f0f020"/>
</g>
<g transform="translate(45.7,0)">
<rect x="0" y="0" width="45.7" height="70" fill="#d8dbe3" stroke="#777" stroke-width=".6"/>
<rect x="0" y="38" width="45.7" height="32" fill="#d6d0dc"/>
<rect x="3" y="42" width="39.7" height="25" rx="4" fill="#f3f1f5"/>
<text x="23" y="53" font-size="2.6" text-anchor="middle" fill="#444">このカードの左隣の効果を</text><text x="23" y="57" font-size="2.6" text-anchor="middle" fill="#444">使用してもよい</text>
<rect x="8" y="8" width="30" height="28" fill="url(#chk)"/>
<polygon points="8,23 20,12 20,18 36,18 36,28 20,28 20,34" fill="#10b020"/>
<text x="5" y="8" font-size="7" fill="#8aa0d8" font-weight="bold">2</text><text x="37" y="8" font-size="7" fill="#8aa0d8" font-weight="bold">4</text>
<rect x="0" y="14" width="4" height="4" fill="#f01010"/><rect x="42" y="14" width="4" height="4" fill="#f01010"/><rect x="0" y="22" width="4" height="4" fill="#1010f0"/><rect x="42" y="22" width="4" height="4" fill="#1010f0"/>
</g>
<g transform="translate(91.4,0)">
<rect x="0" y="0" width="45.7" height="70" fill="#d8dbe3" stroke="#777" stroke-width=".6"/>
<rect x="0" y="38" width="45.7" height="32" fill="#d6d0dc"/>
<rect x="3" y="42" width="39.7" height="25" rx="4" fill="#f3f1f5"/>
<text x="23" y="53" font-size="2.6" text-anchor="middle" fill="#444">サプライから1枚選びコマンド</text><text x="23" y="57" font-size="2.6" text-anchor="middle" fill="#444">を1枚選び、捨て札に置く</text>
<rect x="8" y="8" width="30" height="28" fill="url(#chk)"/>
<text x="23" y="33" font-size="26" font-weight="bold" text-anchor="middle" fill="#e07020" stroke="#222" stroke-width=".6">A</text>
<text x="5" y="8" font-size="7" fill="#8aa0d8" font-weight="bold">2</text><text x="37" y="8" font-size="7" fill="#8aa0d8" font-weight="bold">5</text>
<rect x="42" y="22" width="4" height="4" fill="#1010f0"/><rect x="42" y="29" width="4" height="3" fill="#f0f020"/>
</g>
<g transform="translate(190,0)"><rect width="49" height="70" fill="url(#pE)"/><ellipse cx="25" cy="38" rx="18" ry="21" fill="#d8e2f0" stroke="#8ab8f0" stroke-width="2"/><text x="25" y="53" font-size="33" font-weight="bold" text-anchor="middle" fill="#8aa0d8">1</text><text x="25" y="21" font-size="10" font-weight="bold" text-anchor="middle" fill="#8aa0d8">EXP</text></g>
<g transform="translate(239,0)"><rect width="49" height="70" fill="url(#pE)"/><ellipse cx="25" cy="38" rx="18" ry="21" fill="#d8e2f0" stroke="#8ab8f0" stroke-width="2"/><text x="25" y="53" font-size="33" font-weight="bold" text-anchor="middle" fill="#8aa0d8">1</text><text x="25" y="21" font-size="10" font-weight="bold" text-anchor="middle" fill="#8aa0d8">EXP</text></g>
</svg>

<div class="a" style="left:1174px;top:315px;font-size:7.6px;line-height:11.5px;font-weight:bold;color:#4a7a20;">Bの効果で獲得＋１とCOSTが下がり、←の効果で２回発動、Aも場に出ているた<br>めサプライのCOSTは４下がります（COSTは０未満になりません）</div>
<div class="a" style="left:1174px;top:345px;font-size:7.6px;line-height:11.5px;font-weight:bold;color:#4a7a20;">手札から公開したEXP合計が2。カードの効果で獲得回数が３回になっている<br>ため、EXP合計を超えないようにサプライのカードを獲得できます</div>

<!-- purple panel -->
<div class="a" style="left:1181px;top:430px;width:330px;height:428px;background:#cdc4d5;border-top:1.5px solid #a0c020;border-right:1.5px solid #a0c020;box-sizing:border-box;"></div>
<div class="a t" style="left:1190px;top:441px;font-size:8.6px;line-height:17.5px;"><span class="g">★得点の計算詳細★</span><br>・技カードに描かれているアイコンにつき１点<br>自分のジョブが剣士の場合、<br>エレメントクロスの技カードは<br>自分のジョブアイコン　2点<br>勝利点アイコン　1点<br>自分のジョブ以外のアイコン 1点<br>計4点となります。</div>

<svg style="left:1364px;top:495px;" width="44" height="44" viewBox="0 0 50 50">
<circle cx="25" cy="25" r="24" fill="url(#pB)" stroke="#8fd860" stroke-width="1.2"/><g transform="rotate(-30 25 25)"><rect x="22" y="5" width="6" height="29" fill="#8ab020" stroke="#3a5a10" stroke-width=".8"/><rect x="15" y="33" width="20" height="3.5" fill="#8ab020" stroke="#3a5a10" stroke-width=".8"/><rect x="23.5" y="36.5" width="3" height="8" fill="#3a5a10"/></g>
</svg>

<svg style="left:1415px;top:459px;" width="90" height="122" viewBox="0 0 90 122" preserveAspectRatio="none">
<rect x=".5" y=".5" width="89" height="121" fill="#dcdcdc" stroke="#444" stroke-width="1"/>
<rect x="4" y="4" width="82" height="18" fill="#bbb"/>
<polygon points="6,13 14,6 14,10 20,10 20,16 14,16 14,20" fill="#1010f0" transform="scale(-1,1) translate(-26,0)"/>
<polygon points="30,5 36,12 33,12 33,20 27,20 27,12 24,12" fill="#f01010"/>
<polygon points="38,13 45,6 45,10 52,10 52,16 45,16 45,20" fill="#10b020"/>
<polygon points="53,13 60,6 60,10 67,10 67,16 60,16 60,20" fill="#10b020"/>
<text x="77" y="20" font-size="17" font-weight="bold" text-anchor="middle" fill="#9010b0">B</text>
<rect x="6" y="30" width="4" height="55" fill="#666"/><rect x="80" y="30" width="4" height="55" fill="#666"/>
<rect x="14" y="26" width="62" height="58" fill="#70c040"/>
<text x="45" y="40" font-size="12" text-anchor="middle" fill="#3a8a20">エレメント</text>
<text x="45" y="54" font-size="12" text-anchor="middle" fill="#3a8a20">クロス</text>
<rect x="13" y="54" width="64" height="29" fill="none" stroke="#1a3a10" stroke-width="2"/>
<g transform="translate(20,61)"><circle cx="7" cy="7" r="7" fill="url(#pR)" stroke="#e03040" stroke-width=".6"/><polygon points="3,10 2,5 5,7 7,3 9,7 12,5 11,10" fill="#f8f040"/></g>
<g transform="translate(38,61)"><circle cx="7" cy="7" r="7" fill="url(#pB)" stroke="#8fd860" stroke-width=".6"/><rect x="6" y="2" width="2" height="10" fill="#6a9010" transform="rotate(-30 7 7)"/></g>
<g transform="translate(56,61)"><circle cx="7" cy="7" r="7" fill="url(#pP)" stroke="#8fd860" stroke-width=".6"/></g>
<rect x="1" y="86" width="88" height="35" fill="#e8e8ee"/>
<text x="45" y="93" font-size="3.6" text-anchor="middle" fill="#444">山札の1番上を表向きにする</text>
<text x="45" y="98" font-size="3.6" text-anchor="middle" fill="#444">COSTが1番"大きい"プレイヤーが成功となる</text>
<text x="45" y="103" font-size="3.6" text-anchor="middle" fill="#444">表向きにしたカードは、その後元に戻す</text>
<text x="45" y="111" font-size="3.6" text-anchor="middle" fill="#444">該当するプレイヤーが複数いた場合、</text>
<text x="45" y="116" font-size="3.6" text-anchor="middle" fill="#444">そのプレイヤーは全員成功とする</text>
</svg>

<div class="a t" style="left:1190px;top:614px;font-size:8.6px;line-height:17.6px;">モンスターカードを最後にアタックした<br>場合、自分のジョブチップだけ乗って<br>いれば置いた勝利点チップと<br>モンスターカードをすべて獲得します。<br>※ジョブチップも自身の手元に回収<br>してください。</div>

<!-- card 5 -->
<svg style="left:1356px;top:622px;" width="148" height="104" viewBox="0 0 156 116" preserveAspectRatio="none">
<rect x="1" y="1" width="154" height="114" fill="#cfcfcf" stroke="#3b5323" stroke-width="2.5"/>
<path d="M9 9H146V96Q146 107 135 107H9Z" fill="#666" stroke="#111" stroke-width="1.5"/>
<rect x="14" y="20" width="26" height="76" fill="#d0d0d0"/>
<rect x="116" y="20" width="27" height="76" fill="#d0d0d0"/>
<rect x="46" y="20" width="66" height="76" fill="#9bba10" stroke="#000" stroke-width="2.5"/>
<rect x="52" y="66" width="54" height="24" fill="#8aaa10" stroke="#222" stroke-width="1"/>
<text x="79" y="80" font-size="4.5" text-anchor="middle" fill="#333">ハンダークがあらわれた！</text>
<path d="M80 28l3 0 2 6 5-3 4 7-3 6 4 8-5 3 3 5h-22l3-5-5-3 4-8-3-6 5-7 5 3z" fill="#223322"/>
<polygon points="17,26 37,26 34,30 37,34 17,34 20,30" fill="#f01010"/>
<text x="27" y="52" font-size="16" font-weight="bold" text-anchor="middle" fill="#8aa0d8">3</text>
<rect x="17" y="56" width="20" height="7" fill="#1010f0"/>
<text x="27" y="82" font-size="16" font-weight="bold" text-anchor="middle" fill="#8aa0d8">3</text>
<g transform="translate(42,16)"><circle cx="15" cy="15" r="14" fill="url(#pB)" stroke="#8fd860"/><g transform="rotate(-30 15 15)"><rect x="13" y="2" width="4" height="18" fill="#8ab020" stroke="#3a5a10" stroke-width=".6"/><rect x="8" y="20" width="14" height="2.5" fill="#8ab020" stroke="#3a5a10" stroke-width=".6"/><rect x="14" y="22.5" width="2" height="5" fill="#3a5a10"/></g></g>
<g transform="translate(118,24)"><circle cx="11" cy="11" r="11" fill="url(#pR)" stroke="#e03040" stroke-width=".8"/><polygon points="4,16 3,7 8,11 11,4 14,11 19,7 18,16" fill="#f8f040"/></g>
<g transform="translate(118,47)"><circle cx="11" cy="11" r="11" fill="url(#pR)" stroke="#e03040" stroke-width=".8"/><polygon points="4,16 3,7 8,11 11,4 14,11 19,7 18,16" fill="#f8f040"/></g>
<g transform="translate(118,70)"><circle cx="11" cy="11" r="11" fill="url(#pR)" stroke="#e03040" stroke-width=".8"/><polygon points="4,16 3,7 8,11 11,4 14,11 19,7 18,16" fill="#f8f040"/></g>
</svg>

<!-- credits -->
<div class="a" style="left:1182px;top:895px;width:323px;height:148px;background:#fffbc0;border:3px solid #806000;border-radius:10px;box-sizing:border-box;"></div>
<div class="a" style="left:1195px;top:907px;font-size:12.5px;line-height:16px;color:#806020;">ご購入ありがとうございます！<br>感想はX【<b>@KurokiYosuke</b>】へ！<br>もしくはハッシュタグ【#コマンド勇者】！<br>フォローしてくれると嬉しいです。</div>
<div class="a" style="left:1195px;top:981px;font-size:10px;line-height:13.5px;color:#806020;">ゲームデザイン・イラスト　クロキヨウスケ<br>製作<span style="position:absolute;left:115px;">100TEN1UP</span><br>＆テストプレイヤー＆ありまむらのみなさん</div>
<svg style="left:1418px;top:957px;" width="76" height="80" viewBox="0 0 76 80">
<rect width="76" height="40" fill="#aab8d0"/><rect y="40" width="76" height="40" fill="#f8e070"/>
<g font-family="Liberation Mono, monospace" font-weight="bold" text-anchor="middle" fill="#fff" stroke="#000" stroke-width="2.5" paint-order="stroke">
<text x="38" y="25" font-size="27">100</text>
<text x="38" y="51" font-size="27">TEN</text>
<text x="38" y="77" font-size="27">1UP</text>
</g>
</svg>

</div>
</body></html>
